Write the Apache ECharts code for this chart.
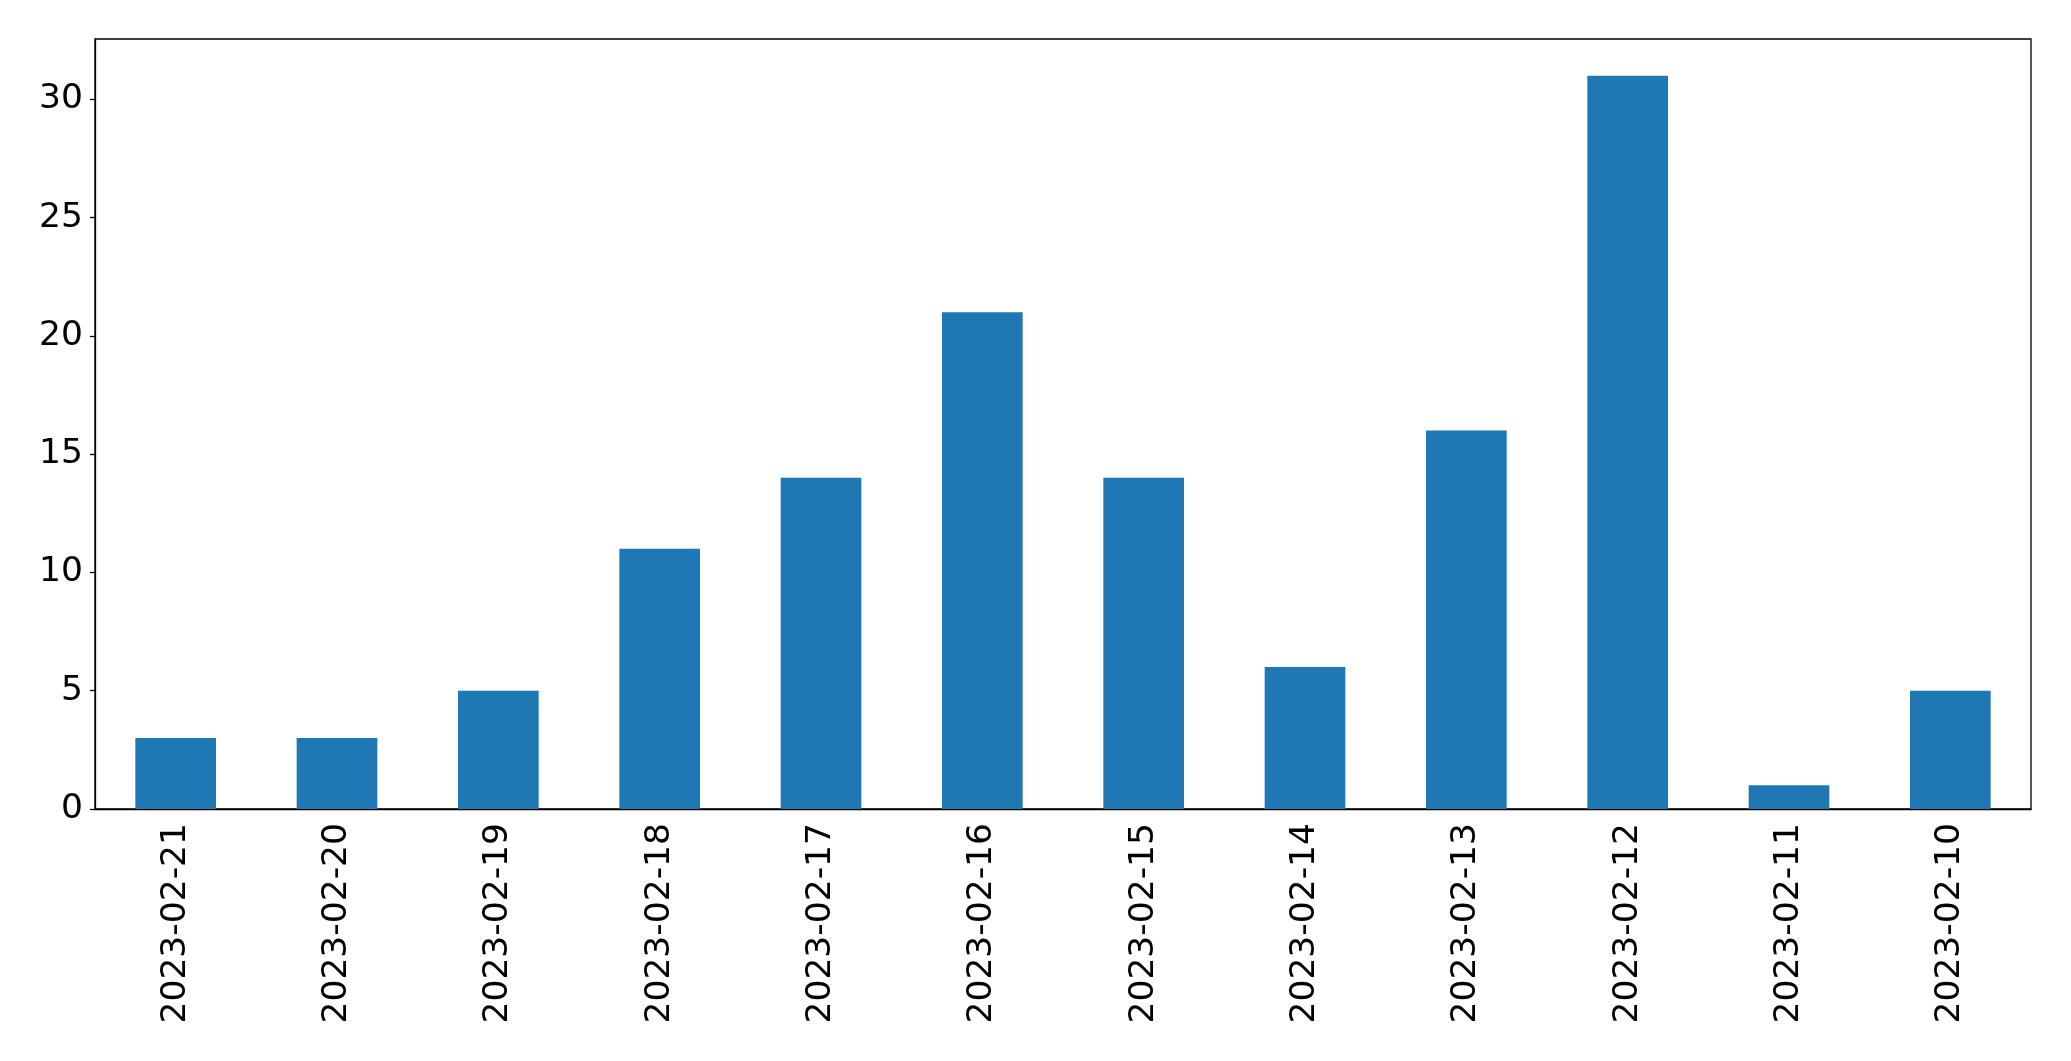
<!DOCTYPE html>
<html>
<head>
<meta charset="utf-8">
<script src="https://cdn.jsdelivr.net/npm/echarts@6/dist/echarts.min.js"></script>
<style>
html,body{margin:0;padding:0;background:#fff;}
#chart{width:2071px;height:1061px;}
</style>
</head>
<body>
<div id="chart"></div>
<script>
const categories = ["2023-02-21","2023-02-20","2023-02-19","2023-02-18","2023-02-17","2023-02-16","2023-02-15","2023-02-14","2023-02-13","2023-02-12","2023-02-11","2023-02-10"];
const values = [3,3,5,11,14,21,14,6,16,31,1,5];
const yMax = 32.55;

const chart = echarts.init(document.getElementById('chart'), null, {renderer:'canvas'});
const font = "'DejaVu Sans', sans-serif";
chart.setOption({
  animation:false,
  backgroundColor:'#ffffff',
  grid:{left:95,right:40,top:39,bottom:252,show:true,borderColor:'#000',borderWidth:1.3,backgroundColor:'transparent'},
  xAxis:{
    type:'category',
    data:categories,
    boundaryGap:true,
    axisLine:{lineStyle:{color:'#000',width:1.3}},
    axisTick:{alignWithLabel:true,length:5,lineStyle:{color:'#000',width:1.3}},
    axisLabel:{rotate:90,margin:14,color:'#000',fontSize:34.5,fontFamily:font,interval:0}
  },
  yAxis:{
    type:'value',
    min:0,max:yMax,interval:5,
    splitLine:{show:false},
    axisLine:{show:true,lineStyle:{color:'#000',width:1.3}},
    axisTick:{show:true,length:5,lineStyle:{color:'#000',width:1.3}},
    axisLabel:{margin:12,color:'#000',fontSize:34.5,fontFamily:font,showMaxLabel:false,
      formatter:function(v){return (v%5===0)?String(v):'';}}
  },
  series:[{type:'bar',data:values,barWidth:'50%',itemStyle:{color:'#1f77b4'}}]
});
</script>
</body>
</html>
